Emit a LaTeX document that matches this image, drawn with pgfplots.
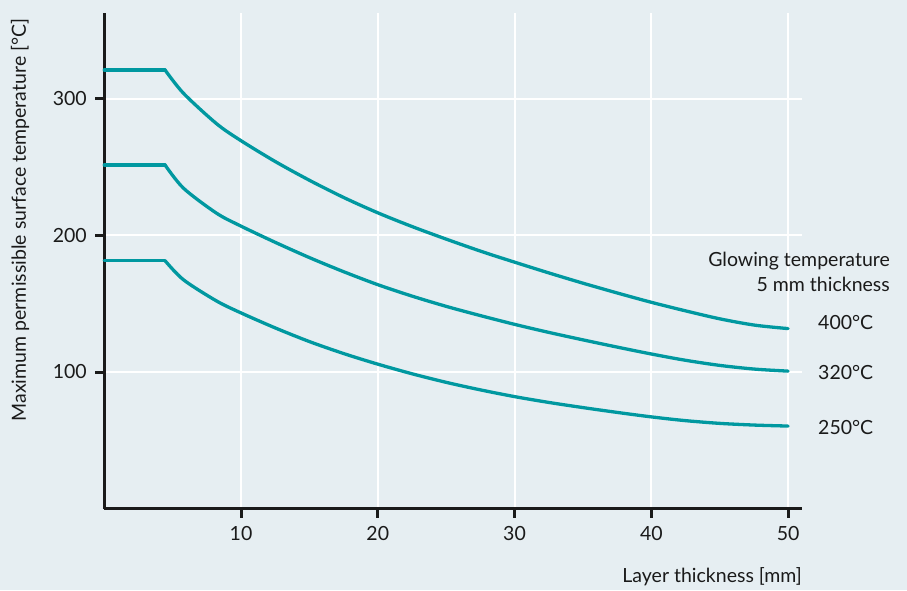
\documentclass[border=0pt]{standalone}
\usepackage{fontspec}
\setmainfont{Lato}
\usepackage{pgfplots}
\pgfplotsset{compat=1.18}
\definecolor{bg}{RGB}{230,238,242}
\definecolor{teal1}{RGB}{0,152,160}
\definecolor{ink}{RGB}{26,26,26}
\begin{document}
\begin{tikzpicture}
\fill[bg] (0,0) rectangle (907pt,590pt);
\begin{axis}[
 at={(104.25pt,81.5pt)}, anchor=south west,
 scale only axis, width=697.5pt, height=495.5pt,
 xmin=0,xmax=51,ymin=0,ymax=363,
 axis lines=left, axis line style={ink, line width=3pt, -},
 xtick={10,20,30,40,50}, ytick={100,200,300},
 tick align=outside, major tick length=9pt,
 tick style={ink,line width=3pt},
 grid=major, major grid style={white,line width=2pt},
 ticklabel style={font=\fontsize{19.5}{22}\selectfont, text=ink},
 /pgf/number format/assume math mode=true,
 xticklabel style={yshift=-5pt},
 yticklabel style={xshift=-5pt},
 clip=false,
]
% 400 C
\addplot[teal1, line width=3.3pt, line cap=round] coordinates {(0,321.2) (4.45,321.2)};
\addplot[teal1, line width=3.3pt, smooth, line cap=round] coordinates {
(4.45,321.2) (5.8,304.1) (8.2,282.0) (9.93,269.9) (12.5,254.2) (15.05,240.2) (17.6,227.4) (20.1,216.2) (22.6,206.2) (25.1,197.0) (27.7,187.9) (30.15,180.0) (32.6,172.3) (35.16,164.6) (37.72,157.3) (40.1,150.8) (42.46,144.9) (45.03,138.9) (47.58,134.3) (50,131.8)};
% 320 C
\addplot[teal1, line width=3.3pt, line cap=round] coordinates {(0,251.6) (4.45,251.6)};
\addplot[teal1, line width=3.3pt, smooth, line cap=round] coordinates {
(4.45,251.6) (5.8,234.6) (8.2,216.4) (9.93,207.2) (12.5,195.0) (15.05,183.6) (17.6,173.1) (20.05,163.8) (22.6,155.3) (25.14,147.7) (27.7,140.8) (30.15,134.55) (32.6,128.8) (35.16,123.2) (37.72,117.8) (40.1,113.0) (42.46,108.65) (45.03,104.8) (47.58,102.1) (50,100.65)};
% 250 C
\addplot[teal1, line width=3.3pt, line cap=round] coordinates {(0,181.5) (4.45,181.5)};
\addplot[teal1, line width=3.3pt, smooth, line cap=round] coordinates {
(4.45,181.5) (5.8,167.5) (8.2,152.1) (9.93,143.6) (12.5,132.3) (15.05,122.1) (17.6,113.2) (20.05,105.6) (22.6,98.45) (25.14,92.1) (27.7,86.5) (30.15,81.7) (32.6,77.55) (35.16,73.7) (37.72,70.1) (40.1,67.0) (42.46,64.4) (45.03,62.35) (47.58,61.1) (50,60.4)};
\end{axis}
\begin{scope}[every node/.style={font=\fontsize{19.5}{22}\selectfont, text=ink, inner sep=0pt}]
\node[rotate=90] at (20pt,370pt) {Maximum permissible surface temperature [°C]};
\node[anchor=east] at (802pt,13pt) {Layer thickness [mm]};
\node[anchor=east] at (890pt,329.3pt) {Glowing temperature};
\node[anchor=east] at (890pt,306pt) {5 mm thickness};
\node[anchor=west] at (818pt,267pt) {400°C};
\node[anchor=west] at (818pt,217pt) {320°C};
\node[anchor=west] at (818pt,162pt) {250°C};
\end{scope}
\end{tikzpicture}
\end{document}
